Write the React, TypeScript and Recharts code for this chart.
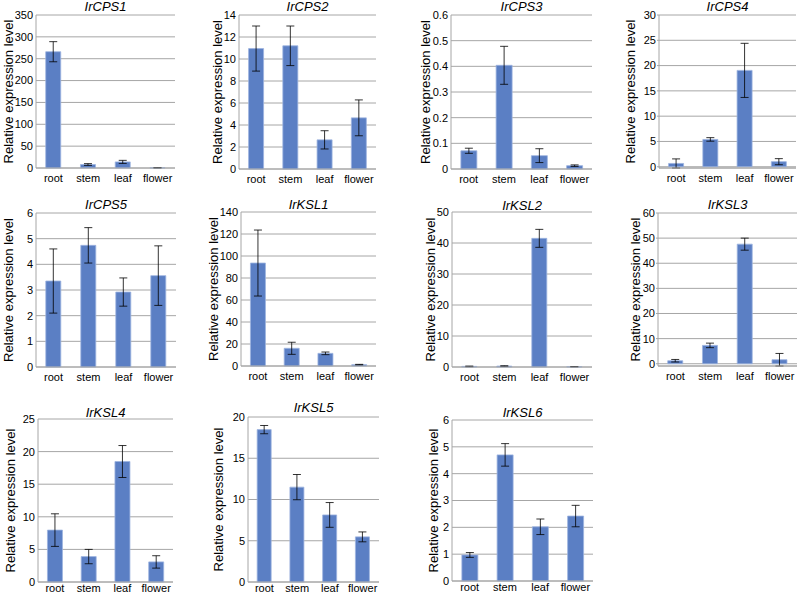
import * as React from "react";
import { BarChart, Bar, XAxis, YAxis, CartesianGrid, ErrorBar } from "recharts";

const tissues = ["root", "stem", "leaf", "flower"];

const cps1Mean = [266, 8, 14, 0.5];
const cps1Err = [23, 2, 3.5, 0.3];
const cps2Mean = [10.95, 11.2, 2.65, 4.65];
const cps2Err = [2.05, 1.8, 0.83, 1.63];
const cps3Mean = [0.071, 0.404, 0.052, 0.013];
const cps3Err = [0.01, 0.074, 0.027, 0.003];
const cps4Mean = [0.65, 5.4, 19.05, 1.0];
const cps4Err = [0.9, 0.35, 5.35, 0.6];
const cps5Mean = [3.35, 4.74, 2.92, 3.56];
const cps5Err = [1.25, 0.69, 0.55, 1.16];
const ksl1Mean = [93.6, 16.1, 11.5, 1.2];
const ksl1Err = [30, 5.5, 1.2, 0.3];
const ksl2Mean = [0.2, 0.3, 41.5, 0.1];
const ksl2Err = [0.1, 0.1, 2.9, 0.05];
const ksl3Mean = [1.2, 7.3, 47.6, 1.6];
const ksl3Err = [0.5, 0.9, 2.4, 2.5];
const ksl4Mean = [7.96, 3.9, 18.48, 3.08];
const ksl4Err = [2.5, 1.1, 2.45, 0.95];
const ksl5Mean = [18.47, 11.5, 8.13, 5.47];
const ksl5Err = [0.5, 1.53, 1.5, 0.6];
const ksl6Mean = [0.97, 4.7, 2.02, 2.42];
const ksl6Err = [0.09, 0.42, 0.29, 0.4];

const ticks350 = [0, 50, 100, 150, 200, 250, 300, 350];
const ticks14 = [0, 2, 4, 6, 8, 10, 12, 14];
const ticks06 = [0, 0.1, 0.2, 0.3, 0.4, 0.5, 0.6];
const ticks30 = [0, 5, 10, 15, 20, 25, 30];
const ticks6 = [0, 1, 2, 3, 4, 5, 6];
const ticks140 = [0, 20, 40, 60, 80, 100, 120, 140];
const ticks50 = [0, 10, 20, 30, 40, 50];
const ticks60 = [0, 10, 20, 30, 40, 50, 60];
const ticks25 = [0, 5, 10, 15, 20, 25];
const ticks20 = [0, 5, 10, 15, 20];

const FONT = '"Liberation Sans", Arial, sans-serif';
const BAR = "#5b7fc4";
const GRID = "#a6a6a6";

type PanelProps = {
  title: string;
  mean: number[];
  err: number[];
  ticks: number[];
  ax: number; // y axis x (page)
  ty: number; // top gridline y
  zy: number; // zero line y
  rx: number; // right end of plot
  labelX: number;
  titleY: number;
  xGap: number;
  tickMarks?: boolean;
};

const LEFT = 45;
const TOP = 10;
const XH = 20;

function Panel(p: PanelProps) {
  const data = tissues.map((t, i) => ({ tissue: t, mean: p.mean[i], err: p.err[i] }));
  const left = p.ax - LEFT;
  const top = p.ty - TOP;
  const width = p.rx - p.ax + LEFT + 4;
  const height = p.zy - p.ty + TOP + XH;
  const lx = p.labelX - left;
  const ly = (p.ty + p.zy) / 2 - top;
  return (
    <>
      <div
        style={{
          position: "absolute",
          left: p.ax,
          width: p.rx - p.ax,
          top: p.titleY - 7,
          lineHeight: "14px",
          textAlign: "center",
          fontFamily: FONT,
          fontStyle: "italic",
          fontSize: 13,
          color: "#000",
        }}
      >
        {p.title}
      </div>
      <div style={{ position: "absolute", left, top }}>
        <BarChart
          width={width}
          height={height}
          data={data}
          margin={{ top: TOP, right: 4, bottom: 0, left: 0 }}
          barCategoryGap="28%"
        >
          <CartesianGrid vertical={false} stroke={GRID} strokeWidth={1} />
          <XAxis
            dataKey="tissue"
            height={XH}
            axisLine={{ stroke: GRID }}
            tickLine={false}
            tickSize={p.xGap}
            tickMargin={2}
            tick={{ fontSize: 11, fill: "#000", fontFamily: FONT }}
            interval={0}
          />
          <YAxis
            width={LEFT}
            domain={[0, p.ticks[p.ticks.length - 1]]}
            ticks={p.ticks}
            interval={0}
            axisLine={{ stroke: GRID }}
            tickLine={p.tickMarks ? { stroke: GRID } : false}
            tickSize={p.tickMarks ? 2 : 1}
            tickMargin={p.tickMarks ? 1 : 2}
            tick={{ fontSize: 11, fill: "#000", fontFamily: FONT }}
            label={() => (
              <text
                x={lx}
                y={ly}
                transform={`rotate(-90 ${lx} ${ly})`}
                textAnchor="middle"
                dominantBaseline="central"
                fontSize={13}
                fontFamily={FONT}
                fill="#000"
              >
                Relative expression level
              </text>
            )}
          />
          <Bar dataKey="mean" fill={BAR} stroke="#9db4e0" strokeWidth={0.8} isAnimationActive={false}>
            <ErrorBar dataKey="err" direction="y" width={4} stroke="#000" strokeWidth={0.8} />
          </Bar>
        </BarChart>
      </div>
    </>
  );
}

export default function App() {
  return (
    <div
      style={{
        position: "absolute",
        left: 0,
        top: 0,
        width: 799,
        height: 595,
        background: "#fff",
        overflow: "hidden",
      }}
    >
      <Panel title="IrCPS1" mean={cps1Mean} err={cps1Err} ticks={ticks350} ax={36} ty={15} zy={168} rx={175} labelX={8} titleY={7} xGap={4} />
      <Panel title="IrCPS2" mean={cps2Mean} err={cps2Err} ticks={ticks14} ax={239} ty={15} zy={169} rx={376} labelX={217} titleY={7} xGap={4} />
      <Panel title="IrCPS3" mean={cps3Mean} err={cps3Err} ticks={ticks06} ax={451} ty={15} zy={169} rx={592} labelX={425} titleY={7} xGap={4} />
      <Panel title="IrCPS4" mean={cps4Mean} err={cps4Err} ticks={ticks30} ax={659} ty={15} zy={168} rx={796} labelX={630} titleY={7} xGap={4} tickMarks />

      <Panel title="IrCPS5" mean={cps5Mean} err={cps5Err} ticks={ticks6} ax={36} ty={213} zy={367} rx={176} labelX={8} titleY={205} xGap={4} />
      <Panel title="IrKSL1" mean={ksl1Mean} err={ksl1Err} ticks={ticks140} ax={241} ty={212} zy={366} rx={376} labelX={213} titleY={205} xGap={4} />
      <Panel title="IrKSL2" mean={ksl2Mean} err={ksl2Err} ticks={ticks50} ax={452} ty={212} zy={367} rx={592} labelX={430} titleY={206} xGap={4} />
      <Panel title="IrKSL3" mean={ksl3Mean} err={ksl3Err} ticks={ticks60} ax={658} ty={213} zy={366} rx={797} labelX={635} titleY={205} xGap={4} tickMarks />

      <Panel title="IrKSL4" mean={ksl4Mean} err={ksl4Err} ticks={ticks25} ax={38} ty={419} zy={582} rx={173} labelX={10} titleY={413} xGap={0} />
      <Panel title="IrKSL5" mean={ksl5Mean} err={ksl5Err} ticks={ticks20} ax={248} ty={417} zy={582} rx={379} labelX={218} titleY={408} xGap={0} />
      <Panel title="IrKSL6" mean={ksl6Mean} err={ksl6Err} ticks={ticks6} ax={452} ty={420} zy={581} rx={593} labelX={433} titleY={413} xGap={0} />
    </div>
  );
}
